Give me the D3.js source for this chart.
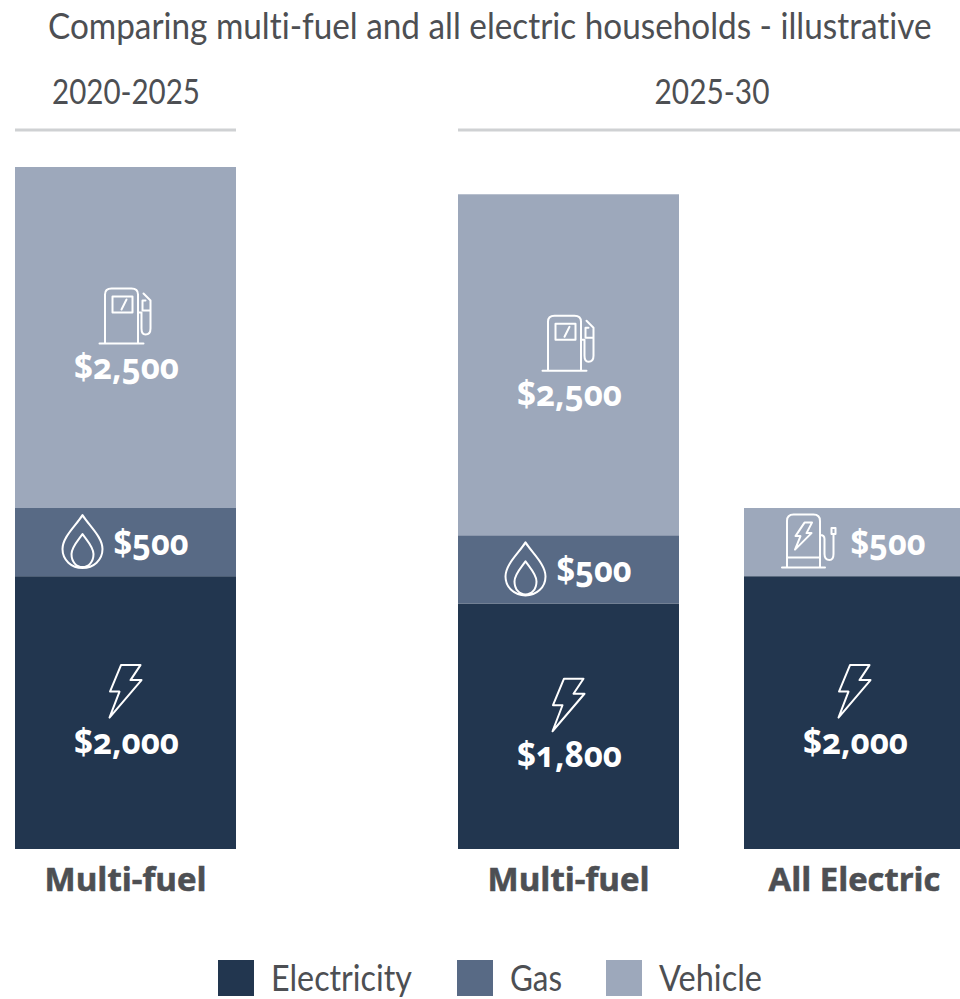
<!DOCTYPE html>
<html lang="en">
<head>
  <meta charset="UTF-8">
  <title>Multi-fuel and all electric households</title>
  <script src="https://cdn.jsdelivr.net/npm/d3@7"></script>
  <style>
    html, body { margin: 0; padding: 0; background: #fff; overflow: hidden; }
    svg { display: block; }
    .thin { font-family: Lato, "Open Sans", sans-serif; fill: #4d4f53; font-variant-ligatures: none; }
    .heavy { font-family: "Open Sans", sans-serif; font-weight: 700; font-variant-numeric: oldstyle-nums; }
    .icon { fill: none; stroke: #fff; stroke-width: 2; stroke-linejoin: round; stroke-linecap: round; }
  </style>
</head>
<body>
<div id="chart"></div>
<script>
  var title = "Comparing multi-fuel and all electric households - illustrative";

  var barIds = ["a", "b", "c"];
  var barLabels = ["Multi-fuel", "Multi-fuel", "All Electric"];
  var periods = ["2020-2025", "2025-30"];
  var series = ["Electricity", "Gas", "Vehicle"];
  var electricity = [2000, 1800, 2000];
  var gas = [500, 500, 0];
  var vehicle = [2500, 2500, 500];

  var width = 960, height = 999;

  var colors = d3.scaleOrdinal().domain(series).range(["#22364f", "#586a85", "#9da8bb"]);

  // bars are not evenly spaced in the original
  var x = d3.scaleOrdinal().domain(barIds).range([15, 458, 744]);
  var barWidth = 221;

  var y = d3.scaleLinear().domain([0, 5000]).range([849, 167]);

  var money = d3.format("$,");

  var svg = d3.select("#chart").append("svg")
    .attr("width", width)
    .attr("height", height);

  // squeeze a text sideways to the width it has in the original
  function fit(sel, px, py, target, anchor) {
    sel.each(function(d, i) {
      var w = typeof target === "function" ? target(d, i) : target;
      var k = w / this.getComputedTextLength();
      var tx = typeof px === "function" ? px(d, i) : px;
      d3.select(this)
        .attr("text-anchor", anchor || "start")
        .attr("transform", "translate(" + tx + "," + py + ") scale(" + k + ",1)");
    });
  }

  // icons, drawn around bar centre / segment middle
  var icons = {
    pump: "M-20.5 5 V-43 Q-20.5 -49 -14 -49 H6 Q12.5 -49 12.5 -43 V5 M-26 6 H18 M-13 -41 H7 V-25 H-13 Z M-4 -28 L1 -38 M12.5 -25 H16 V-9 Q16 -3 20 -3 Q25 -3 25 -9 V-27 M18 -44 L25 -37 V-27 H17 V-37 L20 -37",
    flame: "M-43 -27 C-36 -16 -23 -5 -23 7 C-23 18 -32 26 -43 26 C-54 26 -63 18 -63 7 C-63 -5 -50 -16 -43 -27 Z M-43 -8 C-38 -1 -32 5 -32 12 C-32 20 -37 25 -43 25 C-49 25 -54 20 -54 12 C-54 5 -48 -1 -43 -8 Z",
    plug: "M-67.5 25 V-21 Q-67.5 -27.5 -61 -27.5 H-41 Q-34.5 -27.5 -34.5 -21 V25 M-72.5 25.5 H-29.5 M-67.5 15.5 H-34.5 M-50 -19.5 H-42.5 L-48 -9 H-43 L-59.5 7.5 L-54 -6 H-59 Z M-34.5 -7 Q-30 -7 -30 -3 V12 Q-30 18 -25 18 Q-21 18 -21 12 V-8 M-23 -8 H-19 V-14 H-23 Z",
    bolt: "M-4.5 -47.5 H15 L5 -32.5 H16 L-16 5 L-6 -21 H-15.5 Z"
  };

  // stack each bar from its values
  var table = barIds.map(function(id, i) {
    return { id: id, Electricity: electricity[i], Gas: gas[i], Vehicle: vehicle[i] };
  });
  var stacked = d3.stack().keys(series)(table);

  var layers = svg.selectAll(".layer")
    .data(stacked)
    .enter()
    .append("g")
    .attr("class", "layer")
    .attr("fill", function(d) { return colors(d.key); });

  layers.selectAll("rect")
    .data(function(d) { return d.filter(function(s) { return s[1] > s[0]; }); })
    .enter()
    .append("rect")
    .attr("x", function(d) { return x(d.data.id); })
    .attr("y", function(d) { return y(d[1]); })
    .attr("width", barWidth)
    .attr("height", function(d) { return y(d[0]) - y(d[1]); });

  // icon and amount inside each segment
  stacked.forEach(function(layer) {
    layer.forEach(function(d) {
      if (d[1] <= d[0]) return;
      var value = d[1] - d[0];
      var small = value <= 500;
      var allElectric = d.data.id === "c";
      var icon = layer.key === "Electricity" ? icons.bolt
               : layer.key === "Gas" ? icons.flame
               : allElectric ? icons.plug : icons.pump;
      var g = svg.append("g")
        .attr("transform", "translate(" + (x(d.data.id) + barWidth / 2) + "," + (y(d[1]) + y(d[0])) / 2 + ")");

      g.append("path").attr("class", "icon").attr("d", icon);

      var label = g.append("text")
        .attr("class", "heavy")
        .attr("fill", "#fff")
        .attr("font-size", 35)
        .text(money(value));

      if (small) {
        fit(label, allElectric ? -4 : -12, 13, 75);
      } else {
        fit(label, 1, 41, 105, "middle");
      }
    });
  });

  // title and period headers
  svg.append("text")
    .attr("class", "thin")
    .attr("font-size", 37)
    .text(title)
    .call(fit, 48, 39, 884);

  var periodX = d3.scaleOrdinal().domain(periods).range([126, 712]);
  var periodLine = d3.scaleOrdinal().domain(periods).range([[15, 236], [458, 960]]);

  svg.selectAll(".period")
    .data(periods)
    .enter()
    .append("text")
    .attr("class", "thin period")
    .attr("font-size", 35)
    .text(function(d) { return d; })
    .call(fit, function(d) { return periodX(d); }, 104, function(d, i) { return i === 0 ? 148 : 115; }, "middle");

  svg.selectAll(".rule")
    .data(periods)
    .enter()
    .append("line")
    .attr("class", "rule")
    .attr("x1", function(d) { return periodLine(d)[0]; })
    .attr("x2", function(d) { return periodLine(d)[1]; })
    .attr("y1", 130)
    .attr("y2", 130)
    .attr("stroke", "#cfd1d3")
    .attr("stroke-width", 3);

  // bar labels
  svg.selectAll(".barlabel")
    .data(barIds)
    .enter()
    .append("text")
    .attr("class", "heavy barlabel")
    .attr("fill", "#4d4f53")
    .attr("font-size", 33)
    .attr("stroke", "#4d4f53")
    .attr("stroke-width", 0.6)
    .text(function(d, i) { return barLabels[i]; })
    .call(fit, function(d) { return x(d) + barWidth / 2; }, 891, function(d, i) { return i === 2 ? 172 : 162; }, "middle");

  // legend
  var legendX = d3.scaleOrdinal().domain(series).range([218, 457, 606]);
  var legendW = d3.scaleOrdinal().domain(series).range([141, 52, 103]);

  var legend = svg.selectAll(".legend")
    .data(series)
    .enter()
    .append("g")
    .attr("class", "legend")
    .attr("transform", function(d) { return "translate(" + legendX(d) + ",960)"; });

  legend.append("rect")
    .attr("width", 36)
    .attr("height", 36)
    .attr("fill", function(d) { return colors(d); });

  legend.append("text")
    .attr("class", "thin")
    .attr("font-size", 37)
    .text(function(d) { return d; })
    .call(fit, 53, 31, function(d) { return legendW(d); });
</script>
</body>
</html>
